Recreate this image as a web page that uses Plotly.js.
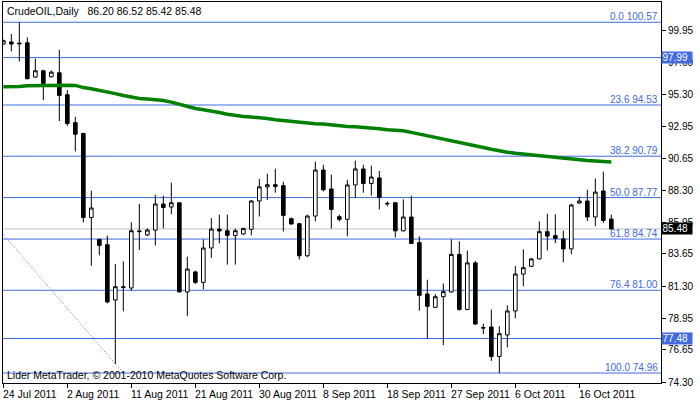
<!DOCTYPE html>
<html>
<head>
<meta charset="utf-8">
<script src="https://cdn.plot.ly/plotly-3.0.1.min.js"></script>
<style>html,body{margin:0;padding:0;background:#fff}#chart{width:700px;height:402px}</style>
</head>
<body>
<div id="chart"></div>
<script>
// ---- data (daily bars, MetaTrader-style: Sunday bars included) ----
const symbol = 'CrudeOIL';
const period = 'Daily';
const dates = [
 '2011-07-24','2011-07-25','2011-07-26','2011-07-27','2011-07-28','2011-07-29','2011-07-31',
 '2011-08-01','2011-08-02','2011-08-03','2011-08-04','2011-08-05','2011-08-07','2011-08-08',
 '2011-08-09','2011-08-10','2011-08-11','2011-08-12','2011-08-14','2011-08-15','2011-08-16',
 '2011-08-17','2011-08-18','2011-08-19','2011-08-21','2011-08-22','2011-08-23','2011-08-24',
 '2011-08-25','2011-08-26','2011-08-28','2011-08-29','2011-08-30','2011-08-31','2011-09-01',
 '2011-09-02','2011-09-04','2011-09-05','2011-09-06','2011-09-07','2011-09-08','2011-09-09',
 '2011-09-11','2011-09-12','2011-09-13','2011-09-14','2011-09-15','2011-09-16','2011-09-18',
 '2011-09-19','2011-09-20','2011-09-21','2011-09-22','2011-09-23','2011-09-25','2011-09-26',
 '2011-09-27','2011-09-28','2011-09-29','2011-09-30','2011-10-02','2011-10-03','2011-10-04',
 '2011-10-05','2011-10-06','2011-10-07','2011-10-09','2011-10-10','2011-10-11','2011-10-12',
 '2011-10-13','2011-10-14','2011-10-16','2011-10-17','2011-10-18','2011-10-19','2011-10-20'
];
const open = [98.98,99.13,99.05,99.07,96.57,97.03,96.59,96.88,95.28,93.24,92.45,86.32,84.72,84.33,80.29,81.26,81.17,85.28,85.04,85.40,87.30,87.08,87.39,80.88,82.34,81.58,84.09,85.47,85.35,85.01,85.11,85.45,87.52,88.55,88.71,88.64,86.23,85.86,83.52,86.42,89.78,88.40,86.37,86.18,88.69,89.86,88.80,89.20,87.35,87.39,85.34,86.35,84.48,80.73,79.75,80.53,80.88,83.62,79.60,83.00,78.27,78.32,76.17,77.74,79.49,82.19,82.75,83.29,85.28,84.99,84.75,84.02,87.37,87.52,86.35,88.25,86.20];
const high = [99.30,99.71,100.57,99.46,97.91,97.10,97.05,98.56,95.62,93.67,92.50,88.27,84.75,84.99,82.92,83.11,85.96,87.30,85.51,87.98,87.91,88.86,87.40,83.45,82.43,84.72,86.27,86.52,86.52,85.50,85.55,87.59,89.13,89.51,89.88,88.93,86.30,85.93,86.52,90.39,90.17,89.44,86.52,89.07,90.46,90.17,90.10,89.71,87.49,87.44,87.64,87.91,84.94,81.77,80.72,81.50,84.72,84.57,83.89,83.14,78.56,79.59,78.37,79.90,82.77,83.99,83.35,86.03,86.59,86.54,85.35,87.32,87.81,88.34,89.16,89.66,86.52];
const low = [98.95,98.44,97.71,96.40,96.52,94.89,96.55,93.36,93.00,91.14,85.96,82.79,83.55,80.05,75.62,79.46,80.97,83.94,84.96,84.27,85.52,86.56,80.85,79.13,81.46,81.07,83.36,84.42,82.87,82.87,85.05,85.01,86.39,87.59,88.12,85.30,85.79,83.24,83.41,86.03,88.22,85.50,86.03,84.94,87.74,88.12,87.91,86.90,87.13,84.86,85.30,84.38,79.51,77.46,79.75,77.00,80.83,79.53,79.55,78.47,77.81,75.84,74.96,76.83,78.95,81.29,82.70,83.25,83.91,84.45,83.04,83.62,87.35,86.06,85.67,85.91,85.42];
const close = [99.22,98.98,99.00,96.45,97.03,96.10,96.93,95.23,93.18,92.40,86.32,87.01,84.27,80.15,81.26,81.20,85.35,85.32,85.40,87.30,87.05,87.39,80.88,82.55,81.58,84.09,85.47,85.33,85.01,85.35,85.52,87.52,88.55,88.71,88.58,86.47,85.84,83.52,86.42,89.78,88.34,86.90,86.18,88.69,89.86,88.80,89.27,87.78,87.32,85.34,86.35,84.42,80.63,79.83,80.53,80.90,83.62,79.60,83.00,78.54,78.25,76.17,77.83,79.49,82.19,82.65,83.29,85.28,84.96,84.79,84.02,87.23,87.52,86.35,88.17,86.10,85.48];
const movingAvg = [95.86,95.86,95.88,95.93,95.95,95.96,95.97,95.97,95.97,95.96,95.80,95.72,95.62,95.50,95.36,95.22,95.08,95.00,94.96,94.92,94.86,94.74,94.58,94.42,94.27,94.18,94.11,93.98,93.86,93.76,93.69,93.65,93.62,93.54,93.45,93.39,93.33,93.25,93.18,93.16,93.14,93.06,92.99,92.96,92.94,92.90,92.87,92.80,92.72,92.69,92.65,92.53,92.41,92.31,92.21,92.09,91.97,91.85,91.72,91.58,91.43,91.30,91.17,91.08,91.00,90.94,90.88,90.82,90.77,90.69,90.61,90.57,90.53,90.48,90.44,90.40,90.37];
// Fibonacci retracement object
const fibLevels = [0.0, 23.6, 38.2, 50.0, 61.8, 76.4, 100.0];
const fibPrices = [100.57, 94.53, 90.79, 87.77, 84.74, 81.00, 74.96];
const fibAnchorX = [-23, 15];
const fibAnchorY = [100.57, 74.96];
// plain horizontal lines with price tags
const hLines = [97.99, 77.48];
// y-axis ticks
const yTicks = [99.95, 97.60, 95.30, 92.95, 90.65, 88.30, 85.95, 83.65, 81.30, 78.95, 76.65, 74.30];
const tickEvery = 8;
const copyrightText = 'Lider MetaTrader, \u00a9 2001-2010 MetaQuotes Software Corp.';

// ---- build ----
const FONT = 'Liberation Sans, Arial, sans-serif';
const BLUE = '#4169E1';
const months = ['Jan','Feb','Mar','Apr','May','Jun','Jul','Aug','Sep','Oct','Nov','Dec'];
function fmtDate(s){ const p = s.split('-'); return (+p[2]) + ' ' + months[+p[1]-1] + ' ' + p[0]; }
const idx = dates.map((d,i)=>i);
const tickvals = idx.filter(i => i % tickEvery === 0);
const ticktext = tickvals.map(i => fmtDate(dates[i]));
const last = dates.length - 1;
const lastClose = close[last];

const traces = [
  { type:'scatter', mode:'lines', x: fibAnchorX, y: fibAnchorY,
    line:{color:BLUE, width:1, dash:'1px,2px'}, hoverinfo:'skip', showlegend:false },
  { type:'candlestick', x: idx, open: open, high: high, low: low, close: close,
    increasing:{line:{color:'#000', width:1}, fillcolor:'#fff'},
    decreasing:{line:{color:'#000', width:1}, fillcolor:'#000'},
    whiskerwidth:0, hoverinfo:'skip', showlegend:false },
  { type:'scatter', mode:'lines', x: idx, y: movingAvg,
    line:{color:'#008000', width:3.5}, hoverinfo:'skip', showlegend:false }
];

const shapes = [];
const annotations = [];
fibPrices.forEach((p, k) => {
  shapes.push({type:'line', xref:'paper', x0:0, x1:1, yref:'y', y0:p, y1:p,
    line:{color:BLUE, width:1}, layer:'below'});
  annotations.push({xref:'paper', x:1, xanchor:'right', xshift:-1, yref:'y', y:p, yanchor:'bottom', yshift:-2,
    text: fibLevels[k].toFixed(1) + ' ' + p.toFixed(2), showarrow:false,
    font:{family:FONT, size:10, color:BLUE}});
});
hLines.forEach(p => {
  shapes.push({type:'line', xref:'paper', x0:0, x1:1, yref:'y', y0:p, y1:p,
    line:{color:BLUE, width:1}, layer:'below'});
  annotations.push({xref:'paper', x:1, xanchor:'left', xshift:0, yref:'y', y:p, yanchor:'middle',
    text: p.toFixed(2), showarrow:false, bgcolor:BLUE, width:29, height:10, borderpad:0.5, align:'left',
    font:{family:FONT, size:10, color:'#fff'}});
});
// bid line
shapes.push({type:'line', xref:'paper', x0:0, x1:1, yref:'y', y0:lastClose, y1:lastClose,
  line:{color:'#c0c0c0', width:1}, layer:'below'});
annotations.push({xref:'paper', x:1, xanchor:'left', xshift:0, yref:'y', y:lastClose, yanchor:'middle',
  text: lastClose.toFixed(2), showarrow:false, bgcolor:'#000', width:29, height:10, borderpad:0.5, align:'left',
  font:{family:FONT, size:10, color:'#fff'}});
// x tick labels (MetaTrader draws them to the right of each tick)
tickvals.forEach((v, k) => {
  annotations.push({xref:'x', x:v, xanchor:'left', xshift:-2, yref:'paper', y:0, yanchor:'top', yshift:-3,
    text: ticktext[k], showarrow:false, font:{family:FONT, size:10.5, color:'#000'}});
});
// header
annotations.push({xref:'paper', x:0, xanchor:'left', xshift:2, yref:'paper', y:1, yanchor:'top', yshift:-1,
  text: symbol + ',' + period + '&nbsp;&nbsp;&nbsp;' + [open[last], high[last], low[last], close[last]].map(v=>v.toFixed(2)).join(' '),
  showarrow:false, font:{family:FONT, size:10.5, color:'#000'}});
// copyright
annotations.push({xref:'paper', x:0, xanchor:'left', xshift:2, yref:'paper', y:0, yanchor:'bottom', yshift:0,
  text: copyrightText, showarrow:false, font:{family:FONT, size:10.5, color:'#000'}});

const layout = {
  width:700, height:402,
  margin:{l:3, r:39, t:2, b:19, pad:0},
  paper_bgcolor:'#fff', plot_bgcolor:'#fff',
  showlegend:false, boxgap:0.35,
  font:{family:FONT, size:10, color:'#000'},
  xaxis:{range:[-0.04, 82.21], showgrid:false, zeroline:false, showline:true, mirror:true,
    linecolor:'#000', linewidth:1, ticks:'outside', ticklen:4, tickcolor:'#000',
    tickvals:tickvals, ticktext:ticktext, showticklabels:false,
    rangeslider:{visible:false}, fixedrange:true},
  yaxis:{range:[74.23, 102.05], side:'right', showgrid:false, zeroline:false, showline:true, mirror:true,
    linecolor:'#000', linewidth:1, ticks:'outside', ticklen:4, tickcolor:'#000',
    tickvals:yTicks, ticktext:yTicks.map(v=>v.toFixed(2)), fixedrange:true,
    tickfont:{family:FONT, size:10, color:'#000'}},
  shapes:shapes, annotations:annotations
};
Plotly.newPlot('chart', traces, layout, {displayModeBar:false, staticPlot:true});
</script>
</body>
</html>
